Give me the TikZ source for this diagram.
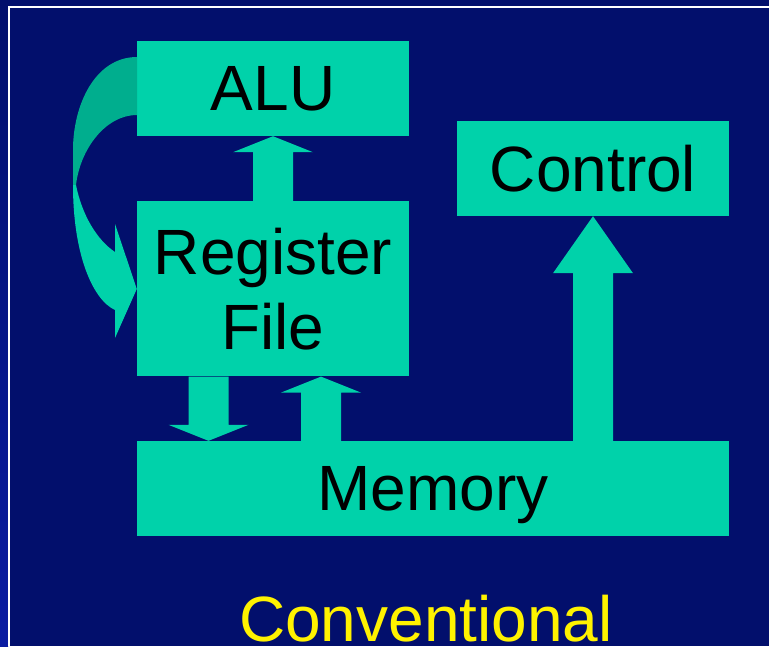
\documentclass[tikz,border=0pt]{standalone}
\usepackage{fontspec}
\setmainfont{Liberation Sans}
\usetikzlibrary{calc,positioning}
\definecolor{navy}{RGB}{2,15,108}
\definecolor{sea}{RGB}{0,210,170}
\definecolor{deepsea}{RGB}{0,174,142}
\definecolor{edgeblue}{RGB}{10,28,162}

\begin{document}
\begin{tikzpicture}[x=1pt, y=-1pt, font=\fontsize{64}{75}\selectfont, box/.style = {fill=sea, inner sep=0pt, text depth=0pt, minimum width=272pt, minimum height=95pt}, flow/.style = {fill=sea}]
    \useasboundingbox (0,0) rectangle (769,646);
    \fill[navy] (0,0) rectangle (769,646);
    \shade[top color=navy, bottom color=edgeblue] (0,0) rectangle (8,646);
    \draw[white, line width=2pt] (9,646) -- (9,7) -- (769,7);

    \node[box] (alu) at (273,88.5) {ALU};
    \node[box, minimum height=175pt, align=center] (reg) [below=65pt of alu] {Register\\File};
    \node[box] (ctrl) at (593,168.5) {Control};
    \node[box, minimum width=592pt] (mem) at (433,488.5) {Memory};
    \node[text=yellow, anchor=base] (title) at (426,641) {Conventional};

    \coordinate (d1) at ($(reg.south)+(-64.5,0)$);
    \coordinate (d2) at (d1 |- mem.north);
    \coordinate (u2) at ($(reg.south)+(48,0)$);
    \coordinate (u1) at (u2 |- mem.north);
    \coordinate (c1) at (ctrl.south |- mem.north);

    \fill[flow] ($(reg.north)+(-20,0)$) |- ($(alu.south)+(-40,16)$) -- (alu.south) -- ($(alu.south)+(40,16)$) -| ($(reg.north)+(20,0)$) -- cycle;
    \fill[flow] ($(d1)+(-20,0)$) |- ($(d2)+(-40,-16)$) -- (d2) -- ($(d2)+(40,-16)$) -| ($(d1)+(20,0)$) -- cycle;
    \fill[flow] ($(u1)+(-20,0)$) |- ($(u2)+(-40,16)$) -- (u2) -- ($(u2)+(40,16)$) -| ($(u1)+(20,0)$) -- cycle;
    \fill[flow] ($(c1)+(-20,0)$) |- ($(ctrl.south)+(-40,57)$) -- (ctrl.south) -- ($(ctrl.south)+(40,57)$) -| ($(c1)+(20,0)$) -- cycle;

    % curved arrow from ALU back into the register file
    \fill[deepsea] (137,57) .. controls (95,57) and (73,105) .. (73,150) -- (73,185) -- (76,185) .. controls (80,150) and (105,115) .. (137,115) -- cycle;
    \fill[flow] (76,185) .. controls (82,215) and (97,240) .. (115,252) -- (115,224) -- (reg.west) -- (115,338) -- (115,310) .. controls (93,300) and (73,255) .. (73,185) -- cycle;
\end{tikzpicture}
\end{document}
